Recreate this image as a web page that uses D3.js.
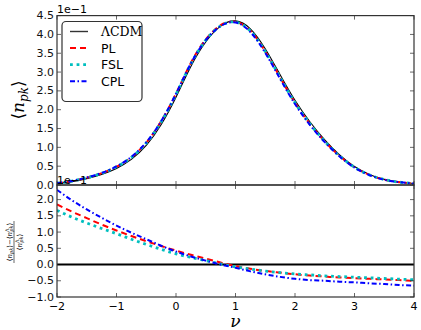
<!DOCTYPE html>
<html><head><meta charset="utf-8">
<script src="https://cdn.jsdelivr.net/npm/d3@7"></script>
<style>body{margin:0;background:#fff}svg{display:block}</style>
</head><body>
<script>
// ---- data ----
const nu = [-2,-1.75,-1.5,-1.25,-1,-0.75,-0.5,-0.25,0,0.25,0.5,0.75,1,1.25,1.5,1.75,2,2.25,2.5,2.75,3,3.25,3.5,3.75,4];
// <n_pk> in units of 1e-1
const npkLCDM = [0.04,0.09,0.17,0.28,0.44,0.68,1.05,1.60,2.33,3.15,3.80,4.22,4.36,4.15,3.62,2.93,2.25,1.68,1.20,0.80,0.49,0.28,0.15,0.08,0.04];
const npkPL   = [0.047,0.105,0.194,0.314,0.486,0.740,1.126,1.691,2.430,3.245,3.868,4.245,4.338,4.096,3.548,2.857,2.183,1.623,1.156,0.768,0.469,0.268,0.143,0.076,0.038];
const npkFSL  = [0.047,0.103,0.192,0.311,0.482,0.733,1.115,1.675,2.407,3.219,3.846,4.228,4.329,4.092,3.548,2.857,2.185,1.626,1.158,0.770,0.471,0.269,0.144,0.076,0.038];
const npkCPL  = [0.049,0.108,0.199,0.320,0.493,0.747,1.132,1.693,2.423,3.229,3.846,4.220,4.316,4.063,3.511,2.819,2.151,1.599,1.140,0.758,0.463,0.264,0.141,0.075,0.037];
// relative difference in units of 1e-1
const diffLCDM = [0,0,0,0,0,0,0,0,0,0,0,0,0,0,0,0,0,0,0,0,0,0,0,0,0];
const diffPL   = [1.85,1.63,1.43,1.23,1.05,0.88,0.72,0.57,0.43,0.30,0.18,0.06,-0.05,-0.13,-0.20,-0.25,-0.30,-0.34,-0.37,-0.40,-0.42,-0.44,-0.46,-0.48,-0.50];
const diffFSL  = [1.67,1.46,1.28,1.11,0.95,0.78,0.62,0.47,0.33,0.22,0.12,0.02,-0.07,-0.14,-0.20,-0.25,-0.29,-0.32,-0.35,-0.37,-0.39,-0.41,-0.43,-0.45,-0.47];
const diffCPL  = [2.30,1.98,1.70,1.44,1.20,0.98,0.78,0.58,0.40,0.25,0.12,0.00,-0.10,-0.21,-0.30,-0.38,-0.44,-0.48,-0.50,-0.53,-0.55,-0.58,-0.60,-0.63,-0.65];
const seriesNames = ["ΛCDM","PL","FSL","CPL"];
const xTicks = [-2,-1,0,1,2,3,4];
const yTopTicks = [0,0.5,1,1.5,2,2.5,3,3.5,4,4.5];
const yBotTicks = [-1,-0.5,0,0.5,1,1.5,2];

// ---- styles ----
const styles = {
  "ΛCDM": {color:"#000", w:1.1, dash:null, wBot:2},
  "PL":   {color:"#ff0000", w:2, dash:"6,4"},
  "FSL":  {color:"#00bfbf", w:2.8, dash:"2.8,3.8"},
  "CPL":  {color:"#0000ff", w:2, dash:"5,2.5,1.5,2.5"}
};

const W = 421, H = 330;
const L = 57, R = 414, T1 = 15.6, B1 = 185, T2 = 185, B2 = 297;
const svg = d3.select("body").append("svg").attr("width",W).attr("height",H)
  .style("font-family","'DejaVu Sans', sans-serif");

const x = d3.scaleLinear().domain([-2,4]).range([L,R]);
const yT = d3.scaleLinear().domain([0,4.5]).range([B1,T1]);
const yB = d3.scaleLinear().domain([-1,2.45]).range([B2,T2]);

const defs = svg.append("defs");
defs.append("clipPath").attr("id","c1").append("rect").attr("x",L).attr("y",T1).attr("width",R-L).attr("height",B1-T1);
defs.append("clipPath").attr("id","c2").append("rect").attr("x",L).attr("y",T2).attr("width",R-L).attr("height",B2-T2);

const topData = {"ΛCDM":npkLCDM,"PL":npkPL,"FSL":npkFSL,"CPL":npkCPL};
const botData = {"ΛCDM":diffLCDM,"PL":diffPL,"FSL":diffFSL,"CPL":diffCPL};

function drawPanel(yScale, data, clip, isBot){
  const g = svg.append("g").attr("clip-path",`url(#${clip})`);
  const line = d3.line().x((d,i)=>x(nu[i])).y(d=>yScale(d)).curve(d3.curveNatural);
  seriesNames.forEach(n=>{
    const s = styles[n];
    g.append("path").datum(data[n]).attr("d",line)
      .attr("fill","none").attr("stroke",s.color)
      .attr("stroke-width", isBot && s.wBot ? s.wBot : s.w)
      .attr("stroke-dasharray", s.dash);
  });
}
drawPanel(yT, topData, "c1", false);
drawPanel(yB, botData, "c2", true);

// axes (ticks inside on all sides)
function frame(yScale, top, bot, yTicks, showX){
  const tl = 4;
  const gx = svg.append("g");
  xTicks.forEach(t=>{
    gx.append("line").attr("x1",x(t)).attr("x2",x(t)).attr("y1",bot).attr("y2",bot-tl).attr("stroke","#000").attr("stroke-width",0.6);
    gx.append("line").attr("x1",x(t)).attr("x2",x(t)).attr("y1",top).attr("y2",top+tl).attr("stroke","#000").attr("stroke-width",0.6);
    if(showX) gx.append("text").attr("x",x(t)).attr("y",bot+12.5).attr("text-anchor","middle")
      .attr("font-size",11).text(d3.format(".0f")(t).replace("-","−"));
  });
  yTicks.forEach(t=>{
    gx.append("line").attr("x1",L).attr("x2",L+tl).attr("y1",yScale(t)).attr("y2",yScale(t)).attr("stroke","#000").attr("stroke-width",0.6);
    gx.append("line").attr("x1",R).attr("x2",R-tl).attr("y1",yScale(t)).attr("y2",yScale(t)).attr("stroke","#000").attr("stroke-width",0.6);
    gx.append("text").attr("x",L-3).attr("y",yScale(t)+3.5).attr("text-anchor","end")
      .attr("font-size",11).attr("fill","#111").text(d3.format(".1f")(t).replace("-","−"));
  });
  svg.append("rect").attr("x",L).attr("y",top).attr("width",R-L).attr("height",bot-top)
    .attr("fill","none").attr("stroke","#333").attr("stroke-width",1.2);
}
frame(yT, T1, B1, yTopTicks, false);
frame(yB, T2, B2, yBotTicks, true);

// offset texts
svg.append("text").attr("x",L).attr("y",T1-2.5).attr("font-size",11).text("1e−1");
svg.append("text").attr("x",L).attr("y",T2-1.5).attr("font-size",11).text("1e−1");

// legend
const lg = svg.append("g");
lg.append("rect").attr("x",62).attr("y",21.5).attr("width",80).attr("height",80).attr("rx",4)
  .attr("fill","#fff").attr("stroke","#333").attr("stroke-width",1.2);
seriesNames.forEach((n,i)=>{
  const yy = 31.5 + i*16.6;
  const s = styles[n];
  lg.append("line").attr("x1",70).attr("x2",88).attr("y1",yy).attr("y2",yy)
    .attr("stroke", n==="ΛCDM" ? "#333" : s.color).attr("stroke-width",s.w+ (n==="ΛCDM"?0.3:0))
    .attr("stroke-dasharray",s.dash);
  lg.append("text").attr("x",101).attr("y",yy+4.5).attr("font-size",12.5)
    .attr("font-family", n==="ΛCDM" ? "'DejaVu Serif', serif" : "'DejaVu Sans', sans-serif")
    .text(n);
});

// y label top: <n_pk>
const yl = svg.append("text").attr("transform","translate(24,100) rotate(-90)")
  .attr("text-anchor","middle").attr("font-family","'DejaVu Serif', serif").attr("font-size",17);
yl.append("tspan").text("⟨");
yl.append("tspan").attr("font-style","italic").text("n");
yl.append("tspan").attr("font-style","italic").attr("font-size",12).attr("dy",4).text("pk");
yl.append("tspan").attr("dy",-4).text("⟩");

// y label bottom: fraction
const fg = svg.append("g").attr("transform","translate(14,242) rotate(-90)")
  .attr("font-family","'DejaVu Serif', serif").attr("font-size",7);
const num = fg.append("text").attr("x",0).attr("y",-2.5).attr("text-anchor","middle");
num.append("tspan").text("⟨");
num.append("tspan").attr("font-style","italic").text("n");
num.append("tspan").attr("font-style","italic").attr("font-size",5).attr("dy",1.5).text("pk");
num.append("tspan").attr("dy",-1.5).text("⟩−⟨");
num.append("tspan").attr("font-style","italic").text("n");
num.append("tspan").attr("font-size",5).attr("dy",-2.5).text("Λ");
num.append("tspan").attr("font-style","italic").attr("font-size",5).attr("dx",-3.5).attr("dy",4).text("pk");
num.append("tspan").attr("dy",-1.5).text("⟩");
fg.append("line").attr("x1",-21).attr("x2",21).attr("y1",0).attr("y2",0).attr("stroke","#000").attr("stroke-width",0.6);
const den = fg.append("text").attr("x",0).attr("y",7.5).attr("text-anchor","middle");
den.append("tspan").text("⟨");
den.append("tspan").attr("font-style","italic").text("n");
den.append("tspan").attr("font-size",5).attr("dy",-2.5).text("Λ");
den.append("tspan").attr("font-style","italic").attr("font-size",5).attr("dx",-3.5).attr("dy",4).text("pk");
den.append("tspan").attr("dy",-1.5).text("⟩");

// x label
svg.append("text").attr("x",(L+R)/2).attr("y",327).attr("text-anchor","middle")
  .attr("font-family","'DejaVu Serif', serif").attr("font-style","italic").attr("font-size",17).text("ν");
</script>
</body></html>
